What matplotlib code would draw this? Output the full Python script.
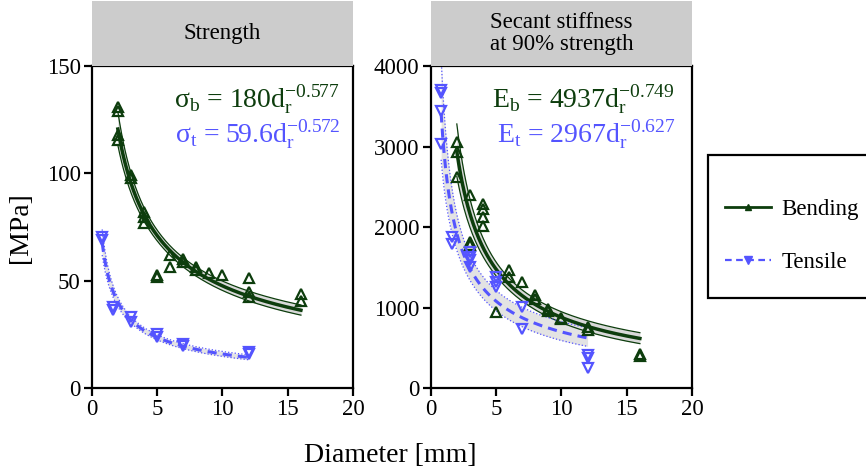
import numpy as np
import matplotlib
matplotlib.use("Agg")
import matplotlib.pyplot as plt
from matplotlib.lines import Line2D
from matplotlib.patches import Rectangle

plt.rcParams['font.family'] = ['Liberation Serif', 'DejaVu Serif']
plt.rcParams['mathtext.fontset'] = 'stix'
plt.rcParams['mathtext.default'] = 'regular'

GREEN = '#0d3d0d'
BLUE = '#5454ff'

# strength [MPa]
str_bend_d = [2, 2, 2, 2, 3, 3, 4, 4, 4, 5, 5, 6, 6, 7, 7, 8, 8, 9, 10, 12, 12, 12, 16, 16]
str_bend_v = [131.1, 129.2, 117.9, 115.6, 99.3, 97.9, 82.2, 79.9, 76.8, 52.7, 51.9, 62.0, 56.6,
              60.0, 58.9, 56.6, 55.1, 53.5, 52.7, 51.2, 45.0, 42.4, 43.7, 40.8]
str_tens_d = [0.8, 0.8, 1.6, 1.6, 3, 3, 5, 5, 7, 7, 12, 12]
str_tens_v = [70.6, 69.0, 38.0, 36.4, 33.3, 31.0, 25.1, 24.0, 20.5, 19.7, 17.0, 16.0]

# secant stiffness [MPa]
stf_bend_d = [2, 2, 2, 3, 3, 3, 4, 4, 4, 4, 5, 6, 6, 7, 8, 8, 9, 9, 10, 10, 12, 12, 16, 16]
stf_bend_v = [3051, 2927, 2627, 2400, 1814, 1773, 2289, 2227, 2123, 2020, 948, 1472, 1381,
              1319, 1154, 1113, 990, 960, 874, 854, 762, 721, 421, 403]
stf_tens_d = [0.8, 0.8, 0.8, 0.8, 1.6, 1.6, 3, 3, 3, 3, 5, 5, 5, 7, 7, 12, 12, 12]
stf_tens_v = [3699, 3669, 3443, 3031, 1876, 1794, 1690, 1628, 1587, 1504, 1381, 1319, 1257,
              1010, 742, 412, 371, 247]

# power-law fits  y = a * d^b
fit_params = {
    'str_bend': (180, -0.577), 'str_tens': (59.6, -0.572),
    'stf_bend': (4937, -0.749), 'stf_tens': (2967, -0.627),
}


def conf_band(d, v, a, b, xs, t=1.4):
    d = np.asarray(d, float)
    v = np.asarray(v, float)
    ld = np.log(d)
    res = np.log(v) - np.log(a * d ** b)
    n = len(d)
    s = np.sqrt(np.sum(res ** 2) / (n - 2))
    sxx = np.sum((ld - ld.mean()) ** 2)
    se = s * np.sqrt(1 / n + (np.log(xs) - ld.mean()) ** 2 / sxx)
    fit = a * xs ** b
    return fit, fit * np.exp(-t * se), fit * np.exp(t * se)


def draw_series(ax, d, v, key, kind):
    a, b = fit_params[key]
    xs = np.linspace(min(d), max(d), 200)
    fit, lo, hi = conf_band(d, v, a, b, xs)
    if kind == 'bend':
        ax.fill_between(xs, lo, hi, color='#d9d9d9', lw=0, zorder=1)
        ax.plot(xs, lo, color=GREEN, lw=0.9, zorder=2)
        ax.plot(xs, hi, color=GREEN, lw=0.9, zorder=2)
        ax.plot(xs, fit, color=GREEN, lw=2.5, zorder=3)
        ax.plot(d, v, ls='none', marker='^', ms=6.5, mfc='none', mec=GREEN, mew=1.6, zorder=4)
    else:
        ax.fill_between(xs, lo, hi, color='#e3e3e3', lw=0, zorder=1)
        ax.plot(xs, lo, color=BLUE, lw=0.9, ls=':', zorder=2)
        ax.plot(xs, hi, color=BLUE, lw=0.9, ls=':', zorder=2)
        ax.plot(xs, fit, color=BLUE, lw=2.2, ls=(0, (3, 2)), zorder=3)
        ax.plot(d, v, ls='none', marker='v', ms=6.5, mfc='none', mec=BLUE, mew=1.6, zorder=4)


fig = plt.figure(figsize=(8.66, 4.72), dpi=100)
ax1 = fig.add_axes([0.1059, 0.1773, 0.302, 0.6829])
ax2 = fig.add_axes([0.4973, 0.1773, 0.302, 0.6829])

draw_series(ax1, str_bend_d, str_bend_v, 'str_bend', 'bend')
draw_series(ax1, str_tens_d, str_tens_v, 'str_tens', 'tens')
draw_series(ax2, stf_bend_d, stf_bend_v, 'stf_bend', 'bend')
draw_series(ax2, stf_tens_d, stf_tens_v, 'stf_tens', 'tens')

ax1.set_ylim(0, 150)
ax1.set_yticks([0, 50, 100, 150])
ax2.set_ylim(0, 4000)
ax2.set_yticks([0, 1000, 2000, 3000, 4000])
for ax in (ax1, ax2):
    ax.set_xlim(0, 20)
    ax.set_xticks([0, 5, 10, 15, 20])
    for sp in ax.spines.values():
        sp.set_linewidth(1.6)
    ax.tick_params(direction='out', length=6, width=1.6, labelsize=16.5, pad=2)

ax1.text(0.949, 0.895, r'$\sigma_b$ = 180d$_r^{-0.577}$', transform=ax1.transAxes,
         ha='right', va='center', fontsize=20, color=GREEN)
ax1.text(0.949, 0.786, r'$\sigma_t$ = 59.6d$_r^{-0.572}$', transform=ax1.transAxes,
         ha='right', va='center', fontsize=20, color=BLUE)
ax2.text(0.934, 0.895, r'E$_b$ = 4937d$_r^{-0.749}$', transform=ax2.transAxes,
         ha='right', va='center', fontsize=20, color=GREEN)
ax2.text(0.934, 0.786, r'E$_t$ = 2967d$_r^{-0.627}$', transform=ax2.transAxes,
         ha='right', va='center', fontsize=20, color=BLUE)

# strip headers
strip_h = 0.138
for ax, title in ((ax1, 'Strength'), (ax2, 'Secant stiffness\nat 90% strength')):
    pos = ax.get_position()
    fig.patches.append(Rectangle((pos.x0, pos.y1), pos.width, strip_h, transform=fig.transFigure,
                                 facecolor='#cccccc', edgecolor='none', zorder=0))
    fig.text(pos.x0 + pos.width / 2, pos.y1 + 0.069, title, ha='center', va='center',
             fontsize=16.5, linespacing=1.1)

ax1.set_ylabel('[MPa]', fontsize=20, labelpad=10)
fig.text(0.451, 0.035, 'Diameter [mm]', ha='center', va='center', fontsize=20)

# legend frame (extends past the right edge like the reference)
fig.patches.append(Rectangle((708 / 866, 1 - 298 / 472), 170 / 866, 143 / 472,
                             transform=fig.transFigure, facecolor='white',
                             edgecolor='black', lw=1.6, zorder=0))
handles = [
    Line2D([], [], color=GREEN, lw=2, marker='^', ms=5, mfc=GREEN),
    Line2D([], [], color=BLUE, lw=1.6, ls=(0, (3, 2)), marker='v', ms=6, mfc=BLUE),
]
leg = fig.legend(handles, ['Bending', 'Tensile'], loc='center left',
                 bbox_to_anchor=(725 / 866, 1 - 236 / 472), fontsize=16.5, frameon=False,
                 borderpad=0, borderaxespad=0, labelspacing=1.4,
                 handlelength=2.0, handletextpad=0.45)

fig.savefig('out.png', dpi=100)
